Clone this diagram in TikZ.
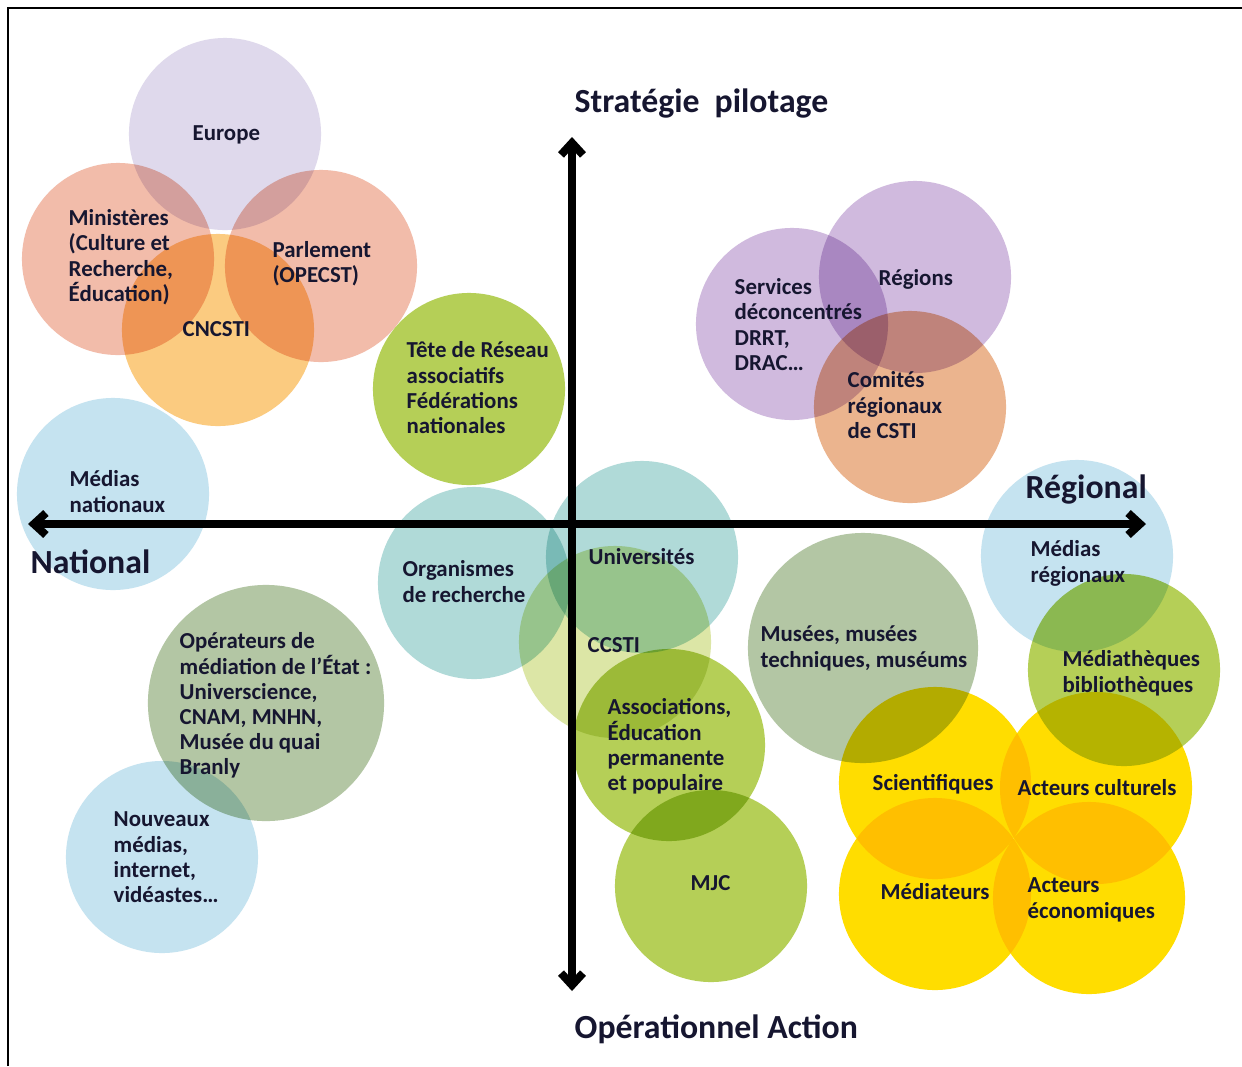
\documentclass[tikz,border=0pt]{standalone}
\usepackage{fontspec}
\setmainfont{Carlito}
\usetikzlibrary{arrows.meta}
\definecolor{ink}{RGB}{22,22,48}
\definecolor{lav}{RGB}{223,217,236}
\definecolor{salmon}{RGB}{242,188,170}
\definecolor{apricot}{RGB}{251,203,128}
\definecolor{skyb}{RGB}{197,227,240}
\definecolor{leaf}{RGB}{181,207,87}
\definecolor{lilac}{RGB}{208,186,222}
\definecolor{tan}{RGB}{235,180,142}
\definecolor{teal}{RGB}{176,218,216}
\definecolor{palegreen}{RGB}{220,230,166}
\definecolor{sage}{RGB}{179,198,164}
\definecolor{sun}{RGB}{255,221,0}
\newcommand{\labtop}{\rule{0pt}{0.75em}}
\begin{document}
\begin{tikzpicture}[x=0.01cm,y=-0.01cm,
  bub/.style={circle,inner sep=0pt,minimum size=1.92cm},
  lbl/.style={anchor=north west,inner sep=0pt,align=left,
    font=\fontsize{6.5}{7.15}\selectfont\bfseries,text=ink},
  axlbl/.style={anchor=base west,inner sep=0pt,
    font=\fontsize{9.6}{11}\selectfont\bfseries,text=ink},
  axisline/.style={line width=0.08cm,
    {Straight Barb[length=1.2mm,width=2.2mm]}-{Straight Barb[length=1.2mm,width=2.2mm]}}]
\useasboundingbox (0,0) rectangle (1242,1066);
\fill[white] (0,0) rectangle (1242,1066);
\draw[line width=0.025cm] (8,1066) -- (8,8) -- (1242,8);

\begin{scope}[blend mode=multiply]
\node[bub,fill=lav] (europe) at (225,134) {};
\node[bub,fill=salmon] (minist) at (118,259) {};
\node[bub,fill=salmon] (parl) at (321,266) {};
\node[bub,fill=apricot] (cncsti) at (218,330) {};
\node[bub,fill=skyb] (mednat) at (113,494) {};
\node[bub,fill=leaf] (tete) at (469,389) {};
\node[bub,fill=lilac] (serv) at (792,324) {};
\node[bub,fill=lilac] (regions) at (915,277) {};
\node[bub,fill=tan] (comites) at (910,407) {};
\node[bub,fill=skyb] (medreg) at (1077,556) {};
\node[bub,fill=leaf] (mediat) at (1124,670) {};
\node[bub,fill=teal] (orga) at (474,583) {};
\node[bub,fill=teal] (univ) at (642,557) {};
\node[bub,fill=palegreen] (ccsti) at (615,642) {};
\node[bub,fill=leaf] (assoc) at (669,745) {};
\node[bub,fill=leaf] (mjc) at (711,886) {};
\node[bub,fill=sage,minimum size=2.30cm] (musees) at (863,648) {};
\node[bub,fill=sage,minimum size=2.36cm] (operat) at (266,703) {};
\node[bub,fill=skyb] (nouv) at (162,857) {};
\node[bub,fill=sun] (scien) at (935,783) {};
\node[bub,fill=sun] (cult) at (1096,788) {};
\node[bub,fill=sun] (mediateurs) at (935,894) {};
\node[bub,fill=sun] (eco) at (1089,898) {};
\end{scope}

\coordinate (ytop) at (572,137);
\coordinate (ybot) at (572,991);
\coordinate (xleft) at (28,524);
\coordinate (xright) at (1146,524);
\draw[axisline] (ybot) -- (ytop);
\draw[axisline] (xleft) -- (xright);

\node[axlbl] (tstrat) at (574,112) {Stratégie\hspace{0.45em}pilotage};
\node[axlbl] (toper) at (574,1038) {Opérationnel Action};
\node[axlbl] (tnat) at (30,573) {National};
\node[axlbl] (treg) at (1025,498) {Régional};

\node[lbl] (leurope) at (192,123) {\labtop Europe};
\node[lbl] (lminist) at (68,208) {\labtop Ministères\\(Culture et\\Recherche,\\Éducation)};
\node[lbl] (lparl) at (272,240) {\labtop Parlement\\(OPECST)};
\node[lbl] (lcncsti) at (182,319) {\labtop CNCSTI};
\node[lbl] (ltete) at (406,340) {\labtop Tête de Réseau\\associatifs\\Fédérations\\nationales};
\node[lbl] (lmednat) at (69,469) {\labtop Médias\\nationaux};
\node[lbl] (lserv) at (734,277) {\labtop Services\\déconcentrés\\DRRT,\\DRAC…};
\node[lbl] (lregions) at (878,268) {\labtop Régions};
\node[lbl] (lcomites) at (847,370) {\labtop Comités\\régionaux\\de CSTI};
\node[lbl] (lmedreg) at (1030,539) {\labtop Médias\\régionaux};
\node[lbl] (lmediat) at (1062,649) {\labtop Médiathèques\\bibliothèques};
\node[lbl] (lorga) at (402,559) {\labtop Organismes\\de recherche};
\node[lbl] (luniv) at (588,547) {\labtop Universités};
\node[lbl] (lccsti) at (587,635) {\labtop CCSTI};
\node[lbl] (lassoc) at (607,697) {\labtop Associations,\\Éducation\\permanente\\et populaire};
\node[lbl] (lmjc) at (690,873) {\labtop MJC};
\node[lbl] (lmusees) at (760,624) {\labtop Musées, musées\\techniques, muséums};
\node[lbl] (loperat) at (179,631) {\labtop Opérateurs de\\médiation de l’État :\\Universcience,\\CNAM, MNHN,\\Musée du quai\\Branly};
\node[lbl] (lnouv) at (113,809) {\labtop Nouveaux\\médias,\\internet,\\vidéastes…};
\node[lbl] (lscien) at (872,773) {\labtop Scientifiques};
\node[lbl] (lcult) at (1017,778) {\labtop Acteurs culturels};
\node[lbl] (lmediateurs) at (880,882) {\labtop Médiateurs};
\node[lbl] (leco) at (1027,875) {\labtop Acteurs\\économiques};
\end{tikzpicture}
\end{document}
